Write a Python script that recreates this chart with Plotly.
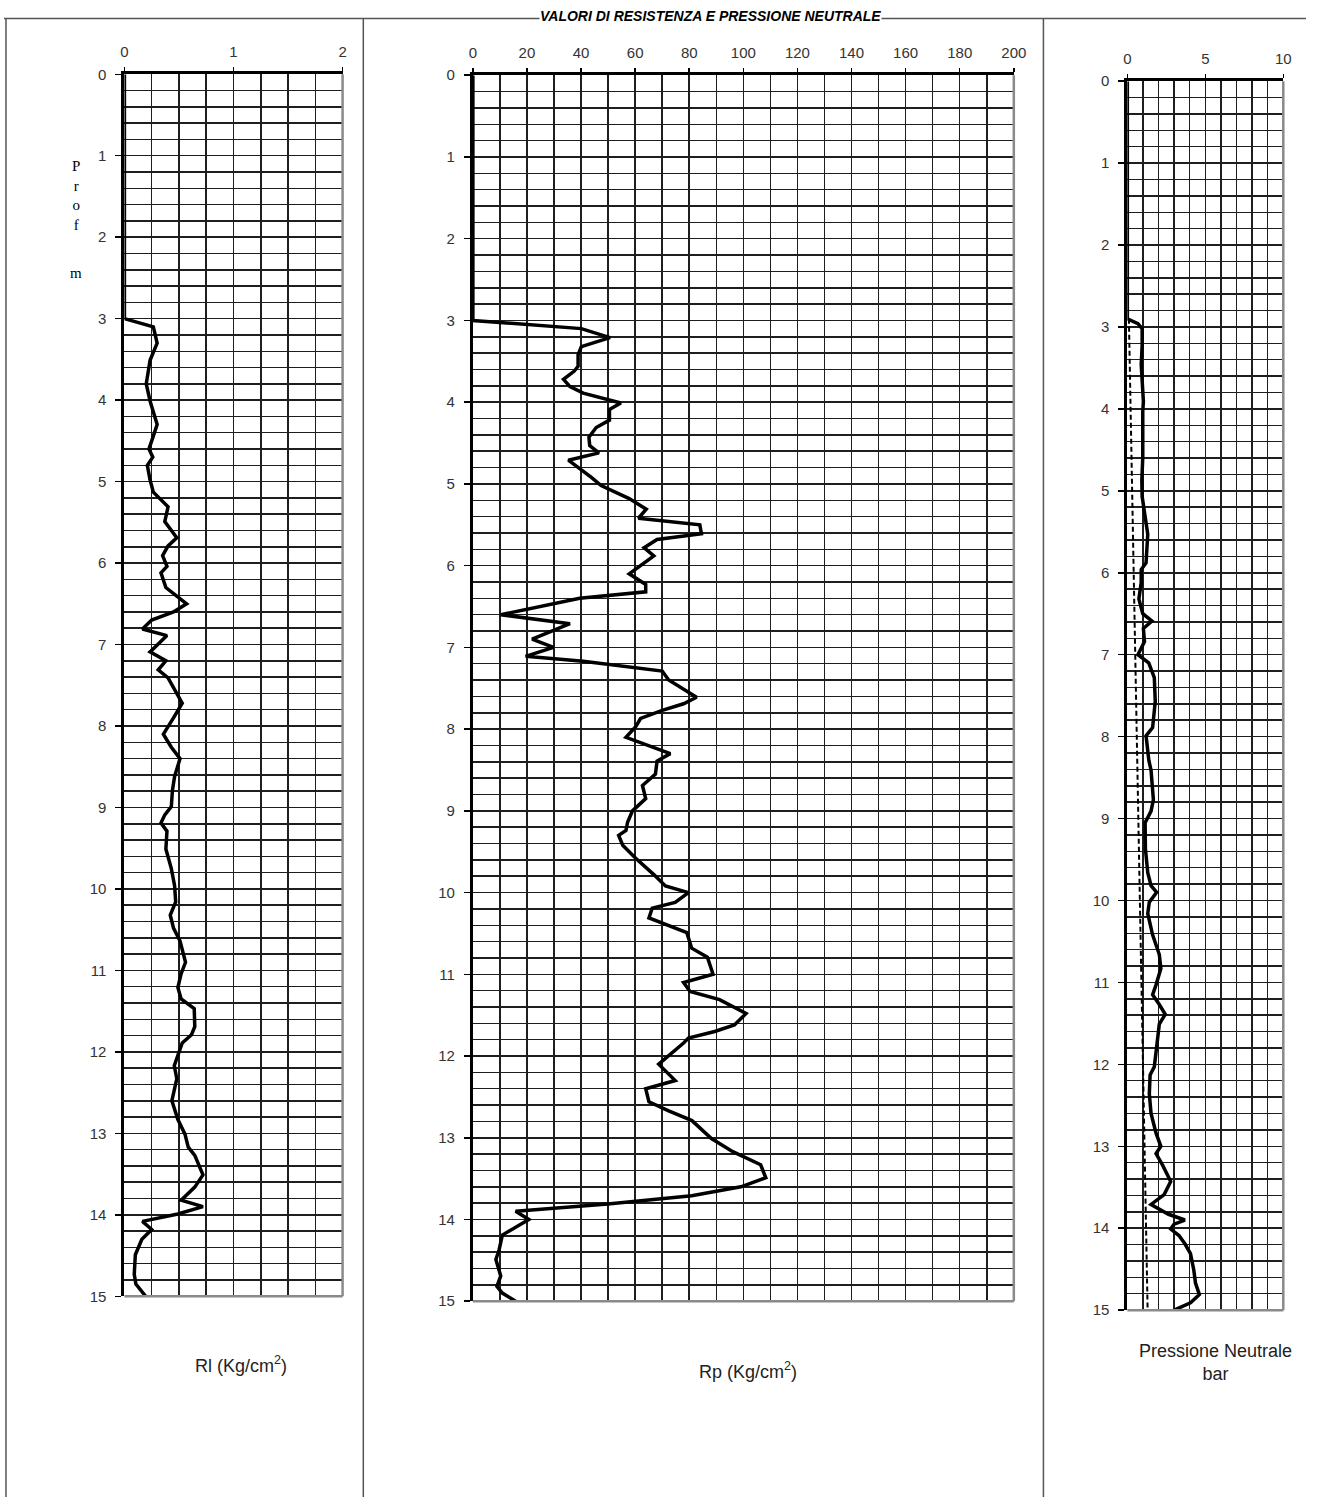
import plotly.graph_objects as go

W, H = 1319, 1505

# ---------------- data ----------------
rl_depth = [0.0, 3.0, 3.10, 3.30, 3.51, 3.65, 3.80, 4.01, 4.30, 4.50, 4.60, 4.70, 4.80, 4.98,
            5.13, 5.31, 5.49, 5.69, 5.79, 5.91, 6.04, 6.12, 6.30, 6.50, 6.60, 6.70, 6.81,
            6.89, 7.09, 7.20, 7.31, 7.41, 7.55, 7.72, 7.90, 8.10, 8.26, 8.40, 8.62, 8.79,
            8.99, 9.09, 9.19, 9.29, 9.51, 9.75, 9.96, 10.16, 10.32, 10.48, 10.64, 10.76,
            10.90, 11.04, 11.21, 11.35, 11.47, 11.69, 11.79, 11.89, 12.01, 12.17, 12.33,
            12.46, 12.60, 12.83, 13.01, 13.17, 13.27, 13.51, 13.66, 13.82, 13.90, 13.99,
            14.08, 14.18, 14.30, 14.49, 14.73, 14.85, 15.0]
rl_value = [0.0, 0.0, 0.265, 0.30, 0.235, 0.22, 0.20, 0.235, 0.30, 0.25, 0.225, 0.26, 0.21, 0.235,
            0.265, 0.40, 0.37, 0.48, 0.40, 0.35, 0.39, 0.335, 0.38, 0.57, 0.45, 0.25, 0.165,
            0.39, 0.235, 0.38, 0.31, 0.40, 0.46, 0.53, 0.45, 0.357, 0.43, 0.51, 0.46, 0.44,
            0.43, 0.37, 0.335, 0.39, 0.38, 0.43, 0.46, 0.47, 0.42, 0.45, 0.51, 0.53,
            0.56, 0.52, 0.49, 0.52, 0.64, 0.645, 0.615, 0.53, 0.50, 0.457, 0.48,
            0.46, 0.435, 0.49, 0.555, 0.585, 0.645, 0.72, 0.645, 0.52, 0.72, 0.49,
            0.165, 0.25, 0.16, 0.10, 0.09, 0.105, 0.195]

rp_depth = [0.0, 3.0, 3.10, 3.14, 3.21, 3.32, 3.42, 3.56, 3.62, 3.72, 3.81, 3.89, 3.97, 4.01,
            4.09, 4.22, 4.31, 4.43, 4.53, 4.62, 4.71, 4.81, 4.92, 5.02, 5.18, 5.31, 5.42,
            5.50, 5.61, 5.68, 5.78, 5.88, 6.10, 6.23, 6.32, 6.40, 6.47, 6.60, 6.71, 6.90,
            7.00, 7.11, 7.17, 7.29, 7.40, 7.61, 7.69, 7.77, 7.87, 7.97, 8.10, 8.15, 8.30,
            8.39, 8.55, 8.69, 8.85, 9.00, 9.14, 9.24, 9.30, 9.42, 9.58, 9.78, 9.92, 10.00,
            10.12, 10.19, 10.31, 10.49, 10.68, 10.79, 11.00, 11.10, 11.21, 11.31, 11.48,
            11.62, 11.70, 11.78, 11.84, 12.10, 12.30, 12.40, 12.56, 12.67, 12.79, 13.01,
            13.17, 13.33, 13.49, 13.60, 13.71, 13.81, 13.90, 14.00, 14.19, 14.37, 14.49,
            14.69, 14.82, 14.90, 15.00]
rp_value = [0.0, 0.0, 40.1, 43.8, 50.7, 40.1, 38.9, 38.9, 37.5, 33.5, 35.9, 40.8, 50.5, 54.7,
            50.5, 50.5, 45.6, 42.9, 43.2, 46.6, 35.3, 39.5, 43.8, 47.4, 57.8, 64.1, 61.2,
            83.9, 84.5, 68.1, 63.3, 66.9, 57.8, 63.9, 63.9, 39.5, 29.2, 10.3, 35.9, 21.9,
            29.8, 19.5, 40.8, 70.0, 72.4, 82.7, 77.9, 70.0, 62.0, 60.2, 56.6, 60.8, 73.0,
            68.1, 67.5, 62.7, 63.9, 59.0, 57.2, 56.6, 53.9, 55.4, 60.2, 66.9, 71.2, 79.7,
            74.8, 66.3, 65.1, 79.1, 80.9, 86.7, 88.8, 77.9, 80.3, 91.2, 101.0,
            96.7, 89.4, 79.7, 77.9, 68.7, 74.8, 63.9, 65.1, 72.4, 81.0, 88.2,
            96.1, 106.4, 108.3, 99.1, 80.9, 49.9, 15.8, 20.7, 10.9, 9.7, 8.5,
            10.3, 8.9, 10.9, 15.8]

u_depth = [0.0, 2.90, 2.96, 3.02, 3.22, 3.46, 3.91, 4.03, 4.59, 4.87, 5.07, 5.39, 5.53, 5.88,
           5.96, 6.12, 6.32, 6.50, 6.59, 6.68, 6.84, 7.00, 7.10, 7.28, 7.57, 7.89, 7.99,
           8.29, 8.41, 8.77, 8.91, 9.05, 9.37, 9.66, 9.82, 9.90, 10.02, 10.16, 10.42, 10.66,
           10.83, 11.03, 11.15, 11.27, 11.39, 11.51, 11.79, 12.03, 12.13, 12.36, 12.60,
           12.84, 13.00, 13.09, 13.23, 13.43, 13.59, 13.71, 13.83, 13.90, 13.95, 14.01,
           14.09, 14.19, 14.31, 14.51, 14.67, 14.81, 14.91, 15.00]
u_value = [0.0, 0.0, 0.68, 0.95, 0.95, 0.89, 1.03, 0.99, 0.99, 0.93, 0.95, 1.20, 1.31, 1.20,
           0.89, 0.89, 0.74, 0.99, 1.58, 1.03, 1.10, 0.68, 1.37, 1.73, 1.79, 1.62, 1.20,
           1.38, 1.52, 1.67, 1.52, 1.14, 1.16, 1.31, 1.52, 1.88, 1.41, 1.31, 1.62, 2.05,
           2.15, 1.84, 1.62, 2.05, 2.43, 2.05, 1.88, 1.73, 1.46, 1.41, 1.52,
           1.84, 2.15, 1.84, 2.26, 2.78, 2.36, 1.52, 2.64, 3.69, 3.00, 2.78,
           3.31, 3.69, 4.05, 4.26, 4.37, 4.62, 4.05, 3.00]

u0_depth = [2.9, 15.0]
u0_value = [0.1, 1.3]

rl_ticks = [0, 1, 2]
rp_ticks = [0, 20, 40, 60, 80, 100, 120, 140, 160, 180, 200]
u_ticks = [0, 5, 10]
depth_ticks = list(range(0, 16))

# ---------------- layout helpers (page pixels -> paper fraction) ----------------
def px_x(p):
    return p / W

def px_y(p):
    return 1 - p / H

FONT = "Liberation Sans, Arial, sans-serif"
GRID = "#1e1e1e"
TICKFONT = dict(family=FONT, size=15, color="#333333")

fig = go.Figure()

line_style = dict(color="black", width=3.5)
fig.add_trace(go.Scatter(x=rl_value, y=rl_depth, mode="lines", line=line_style,
                         xaxis="x", yaxis="y", showlegend=False, hoverinfo="skip"))
fig.add_trace(go.Scatter(x=rp_value, y=rp_depth, mode="lines", line=line_style,
                         xaxis="x2", yaxis="y2", showlegend=False, hoverinfo="skip"))
fig.add_trace(go.Scatter(x=u0_value, y=u0_depth, mode="lines",
                         line=dict(color="black", width=2, dash="5px,3px"),
                         xaxis="x3", yaxis="y3", showlegend=False, hoverinfo="skip"))
fig.add_trace(go.Scatter(x=u_value, y=u_depth, mode="lines", line=line_style,
                         xaxis="x3", yaxis="y3", showlegend=False, hoverinfo="skip"))

panels = [
    # (axis suffix, x range, tick values, minor dtick, x span px, y span px)
    ("", [0, 2], rl_ticks, 0.25, (122, 343), (66, 1302)),
    ("2", [0, 200], rp_ticks, 10, (475, 1023), (67, 1307)),
    ("3", [0, 10], u_ticks, 1, (1138, 1296), (73, 1316)),
]

layout = dict(
    width=W, height=H,
    margin=dict(l=0, r=0, t=0, b=0),
    paper_bgcolor="white", plot_bgcolor="white",
    showlegend=False,
)

shapes = []
for suf, xr, tv, mdt, (x0, x1), (y0, y1) in panels:
    layout["xaxis" + suf] = dict(
        domain=[px_x(x0), px_x(x1)], range=xr, side="top",
        anchor="y" + suf, tickmode="array", tickvals=tv,
        ticktext=[str(v) for v in tv],
        showgrid=True, gridcolor=GRID, gridwidth=1.5,
        minor=dict(dtick=mdt, tick0=0, showgrid=True, gridcolor=GRID, gridwidth=1.5),
        showline=True, linecolor="black", linewidth=3,
        ticks="outside", ticklen=4, tickcolor="black", tickwidth=1.5,
        tickfont=TICKFONT, ticklabelstandoff=4,
        zeroline=False, fixedrange=True,
    )
    layout["yaxis" + suf] = dict(
        domain=[px_y(y1), px_y(y0)], range=[15, 0],
        anchor="x" + suf, tickmode="array", tickvals=depth_ticks,
        ticktext=[str(v) for v in depth_ticks],
        showgrid=True, gridcolor=GRID, gridwidth=1.5,
        minor=dict(dtick=0.2, tick0=0, showgrid=True, gridcolor=GRID, gridwidth=1.5),
        showline=True, linecolor="black", linewidth=3,
        ticks="outside", ticklen=6, tickcolor="black", tickwidth=1.5,
        tickfont=TICKFONT, ticklabelstandoff=6,
        zeroline=False, fixedrange=True,
    )
    xs, ys = "x" + suf, "y" + suf
    shapes.append(dict(type="line", xref=xs + " domain", yref=ys + " domain",
                       x0=1, x1=1, y0=0, y1=1, line=dict(color="#8a8a8a", width=2.5)))
    shapes.append(dict(type="line", xref=xs + " domain", yref=ys + " domain",
                       x0=0, x1=1, y0=0, y1=0, line=dict(color="#8a8a8a", width=2.5)))

frame = dict(color="#555555", width=1.5)
top_line = px_y(9.5)
shapes.append(dict(type="line", xref="paper", yref="paper", x0=0, x1=1,
                   y0=top_line, y1=top_line, line=frame))
for sx in (2, 364, 1053):
    shapes.append(dict(type="line", xref="paper", yref="paper", x0=px_x(sx), x1=px_x(sx),
                       y0=0, y1=top_line, line=frame))
layout["shapes"] = shapes

label_font = dict(family=FONT, size=18, color="#222222")
serif = dict(family="Liberation Serif, DejaVu Serif, serif", size=15, color="black")
annotations = [
    dict(text="<b><i>VALORI DI RESISTENZA E PRESSIONE NEUTRALE</i></b>",
         xref="paper", yref="paper", x=px_x(716), y=1.0,
         xanchor="center", yanchor="top", yshift=2, showarrow=False,
         bgcolor="white", borderpad=0,
         font=dict(family=FONT, size=14, color="black")),
    dict(text="Rl (Kg/cm<sup>2</sup>)", xref="paper", yref="paper",
         x=px_x(240), y=px_y(1371), xanchor="center", yanchor="middle",
         showarrow=False, font=label_font),
    dict(text="Rp (Kg/cm<sup>2</sup>)", xref="paper", yref="paper",
         x=px_x(754), y=px_y(1377), xanchor="center", yanchor="middle",
         showarrow=False, font=label_font),
    dict(text="Pressione Neutrale<br>bar", xref="paper", yref="paper",
         x=px_x(1227), y=px_y(1369), xanchor="center", yanchor="middle",
         showarrow=False, font=label_font),
    dict(text="P<br>r<br>o<br>f", xref="paper", yref="paper",
         x=px_x(73), y=px_y(189), xanchor="center", yanchor="middle",
         showarrow=False, font=serif),
    dict(text="m", xref="paper", yref="paper",
         x=px_x(73), y=px_y(267), xanchor="center", yanchor="middle",
         showarrow=False, font=serif),
]
layout["annotations"] = annotations

fig.update_layout(**layout)
fig.write_html(
    "out.html",
    config={"displayModeBar": False, "staticPlot": True},
    post_script="document.documentElement.style.margin='0';"
                "document.body.style.margin='0';"
                "document.body.style.padding='0';"
                "document.documentElement.style.overflow='hidden';"
                "document.body.style.overflow='hidden';",
)
